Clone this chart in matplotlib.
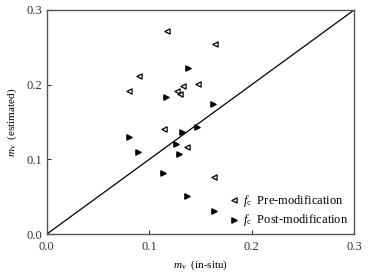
import matplotlib
matplotlib.use('Agg')
import matplotlib.pyplot as plt

# pre-modification (open triangles)
pre_x = [0.1176, 0.164, 0.090, 0.0805, 0.1326, 0.1274, 0.130, 0.148, 0.1144, 0.1365, 0.163]
pre_y = [0.272, 0.254, 0.2116, 0.192, 0.1987, 0.192, 0.1875, 0.201, 0.141, 0.117, 0.0768]

# post-modification (filled triangles)
post_x = [0.138, 0.1163, 0.1626, 0.080, 0.0893, 0.1316, 0.147, 0.126, 0.129, 0.1137, 0.1365, 0.163]
post_y = [0.222, 0.184, 0.174, 0.130, 0.110, 0.1366, 0.1437, 0.121, 0.1067, 0.0813, 0.0509, 0.0312]

ticks = [0.0, 0.1, 0.2, 0.3]
tick_labels = ['0.0', '0.1', '0.2', '0.3']

plt.rcParams['font.family'] = ['Liberation Serif', 'DejaVu Serif']
plt.rcParams['mathtext.fontset'] = 'custom'
plt.rcParams['mathtext.it'] = 'Liberation Serif:italic'
plt.rcParams['mathtext.rm'] = 'Liberation Serif'


def main():
    fig = plt.figure(figsize=(3.72, 2.76), dpi=100)
    ax = fig.add_axes([0.126, 0.152, 0.826, 0.812])

    ax.plot([0, 0.3], [0, 0.3], color='black', lw=0.9)
    ax.scatter(pre_x, pre_y, marker='<', s=14, facecolors='white',
               edgecolors='black', linewidths=0.9,
               label=r'$f_{\rm c}$  Pre-modification', zorder=3)
    ax.scatter(post_x, post_y, marker='>', s=14, color='black',
               label=r'$f_{\rm c}$  Post-modification', zorder=3)

    ax.set_xlim(0, 0.3)
    ax.set_ylim(0, 0.3)
    ax.set_xticks(ticks)
    ax.set_xticklabels(tick_labels)
    ax.set_yticks(ticks)
    ax.set_yticklabels(tick_labels)
    ax.tick_params(direction='in', length=3, labelsize=9, colors='#333333')
    ax.tick_params(axis='x', pad=5)
    ax.tick_params(axis='y', pad=3)
    for s in ax.spines.values():
        s.set_color('#555555')
        s.set_linewidth(1.0)

    ax.set_xlabel(r'$m_{\rm v}$  (in-situ)', fontsize=8, labelpad=4)
    ax.set_ylabel(r'$m_{\rm v}$  (estimated)', fontsize=8, labelpad=6)

    ax.legend(loc='lower right', frameon=False, fontsize=9,
              handletextpad=0.2, borderaxespad=0.05, labelspacing=0.3,
              handlelength=1.0)

    fig.savefig('out.png', dpi=100)


if __name__ == "__main__":
    main()
